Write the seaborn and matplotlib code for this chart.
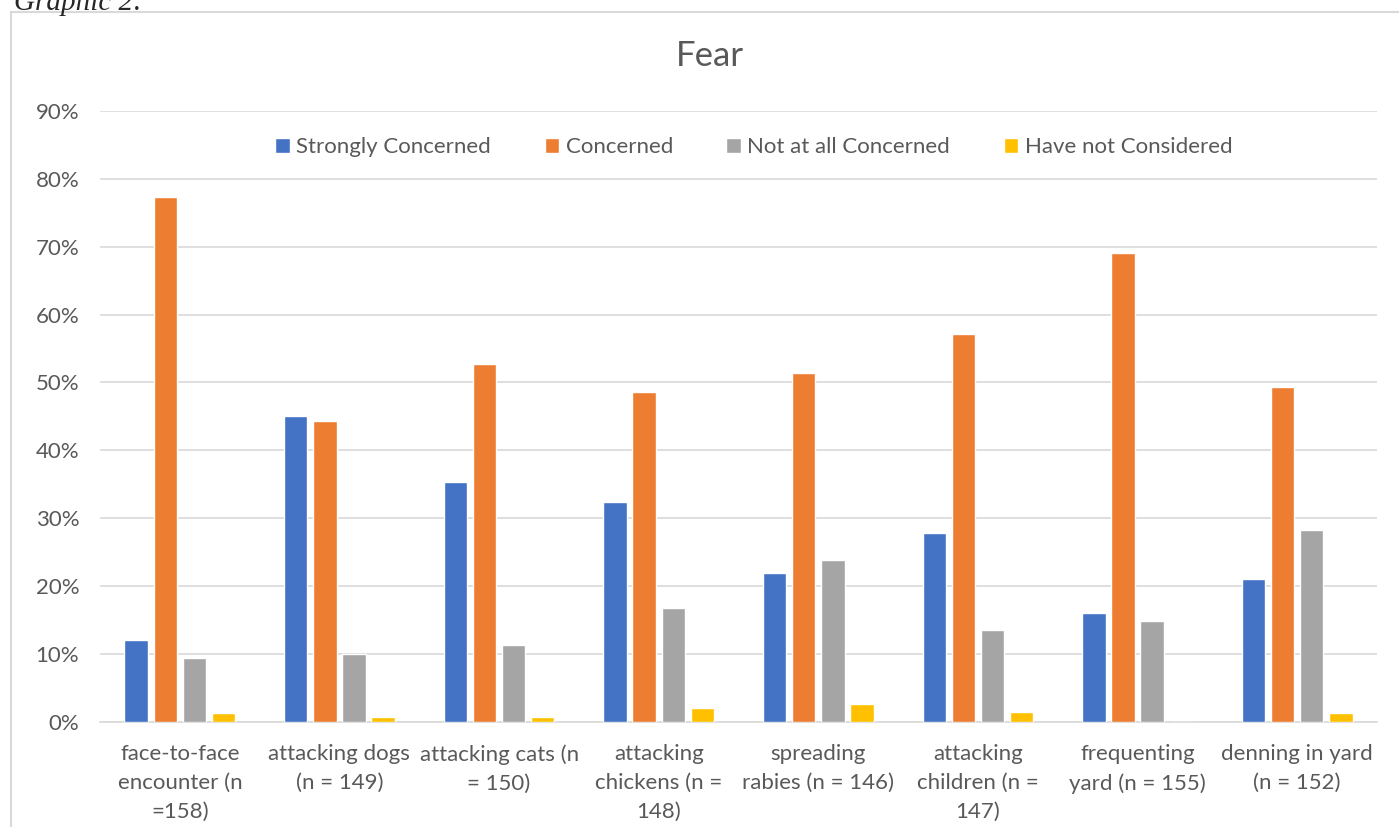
import matplotlib
matplotlib.use("Agg")
import matplotlib.pyplot as plt
from matplotlib.patches import Rectangle
from matplotlib.ticker import PercentFormatter
import seaborn as sns
import pandas as pd

# categories (x axis)
categories = [
    "face-to-face\nencounter (n\n=158)",
    "attacking dogs\n(n = 149)",
    "attacking cats (n\n= 150)",
    "attacking\nchickens (n =\n148)",
    "spreading\nrabies (n = 146)",
    "attacking\nchildren (n =\n147)",
    "frequenting\nyard (n = 155)",
    "denning in yard\n(n = 152)",
]

# series values (percent)
strongly_concerned = [12.0, 45.0, 35.4, 32.4, 21.9, 27.9, 16.1, 21.1]
concerned = [77.3, 44.3, 52.7, 48.6, 51.4, 57.2, 69.0, 49.3]
not_at_all = [9.4, 10.0, 11.3, 16.8, 23.9, 13.6, 14.8, 28.3]
not_considered = [1.3, 0.7, 0.7, 2.0, 2.7, 1.4, 0.0, 1.3]

series_names = ["Strongly Concerned", "Concerned", "Not at all Concerned", "Have not Considered"]
series_values = [strongly_concerned, concerned, not_at_all, not_considered]
colors = ["#4472C4", "#ED7D31", "#A5A5A5", "#FFC000"]

rows = []
for name, vals in zip(series_names, series_values):
    for cat, v in zip(categories, vals):
        rows.append({"Category": cat, "Response": name, "Value": v})
df = pd.DataFrame(rows)

sns.set_style("white")
plt.rcParams["font.family"] = ["Lato", "DejaVu Sans"]

fig = plt.figure(figsize=(13.99, 8.27), dpi=100)
ax = fig.add_axes([100 / 1399, 0.127, 1277 / 1399, 0.739])

sns.barplot(data=df, x="Category", y="Value", hue="Response", order=categories,
            hue_order=series_names, palette=colors, width=0.73, gap=0.2,
            saturation=1, errorbar=None, ax=ax, zorder=3)

ax.set_ylim(0, 90)
ax.set_yticks(range(0, 91, 10))
ax.yaxis.set_major_formatter(PercentFormatter(decimals=0))
ax.grid(axis="y", color="#D9D9D9", linewidth=1.2, zorder=0)
ax.set_axisbelow(True)
for s in ["top", "right", "left"]:
    ax.spines[s].set_visible(False)
ax.spines["bottom"].set_color("#D9D9D9")
ax.spines["bottom"].set_linewidth(1.2)
ax.set_xlabel("")
ax.set_ylabel("")
ax.tick_params(axis="both", length=0, labelsize=16, labelcolor="#595959")
ax.tick_params(axis="x", pad=16)
ax.tick_params(axis="y", pad=15)
for lbl in ax.get_xticklabels():
    lbl.set_multialignment("center")
    lbl.set_linespacing(1.55)

leg = ax.legend(loc="center", bbox_to_anchor=(0.512, 0.94), ncol=4, frameon=False,
                fontsize=16, handlelength=0.65, handleheight=0.65, handletextpad=0.3,
                columnspacing=2.4, labelcolor="#595959")

fig.text(710 / 1399, 1 - 56 / 827, "Fear", ha="center", va="center",
         fontsize=25, color="#595959")

# chart border and caption above it
fig.patches.append(Rectangle((11 / 1399, -0.05), 1.1, 1 - 12 / 827 + 0.05,
                             transform=fig.transFigure, fill=False,
                             edgecolor="#D9D9D9", linewidth=1.5))
fig.text(14 / 1399, 1 - 3 / 827, "Graphic 2:", ha="left", va="center",
         fontsize=21, style="italic", family="Liberation Serif")

fig.savefig("out.png", dpi=100)
